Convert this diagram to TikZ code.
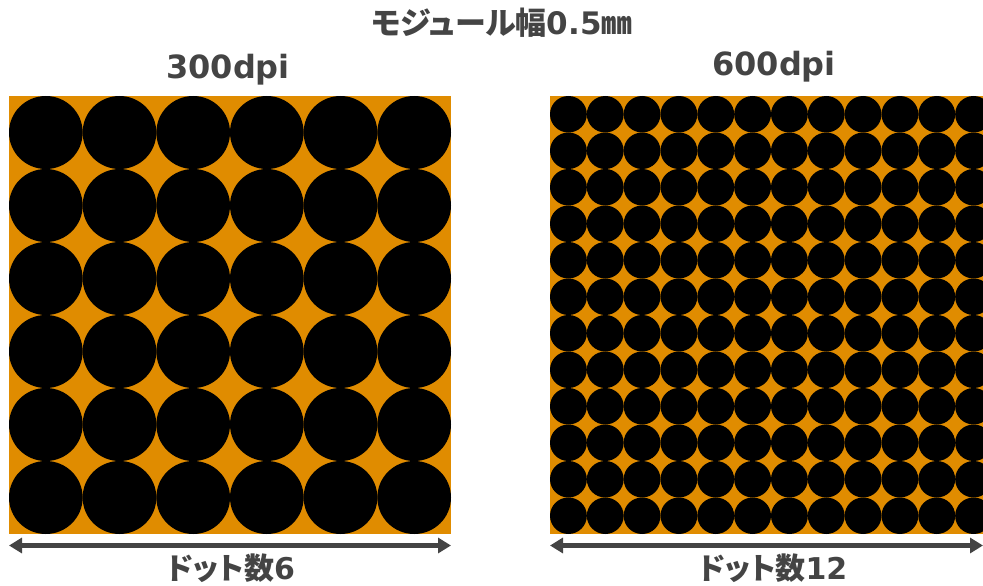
\documentclass[tikz,border=0pt]{standalone}
\usepackage{fontspec}
\setmainfont{DejaVu Sans}
\newfontfamily\jpfont[RawFeature=+palt]{Noto Sans CJK JP}
\usetikzlibrary{arrows.meta}
\definecolor{dotorange}{HTML}{E08C00}
\definecolor{txtgray}{HTML}{444444}
\begin{document}
\begin{tikzpicture}[x=1pt,y=-1pt,
  lbl/.style={text=txtgray,inner sep=0pt,anchor=base},
  dpifont/.style={font=\bfseries\fontsize{32}{32}\selectfont},
  cntfont/.style={font=\bfseries\fontsize{30}{30}\selectfont},
  titlefont/.style={font=\bfseries\fontsize{31}{31}\selectfont},
  dim/.style={draw=txtgray,line width=5pt,{Triangle[length=13pt,width=15pt]}-{Triangle[length=13pt,width=15pt]}}]
\useasboundingbox (0,0) rectangle (983,586);
\begin{scope}
  \clip (0,0) rectangle (983,586);
  % 300 dpi
  \fill[dotorange] (9,96) rectangle (451,534);
  \foreach \i in {0,...,5}
    \foreach \j in {0,...,5}
      \fill[black] ({9+73.667*\i+36.833},{96+73*\j+36.5}) ellipse [x radius=36.833, y radius=36.5];
  % 600 dpi
  \fill[dotorange] (550,96) rectangle (992,534);
  \foreach \i in {0,...,11}
    \foreach \j in {0,...,11}
      \fill[black] ({550+36.833*\i+18.417},{96+36.5*\j+18.25}) ellipse [x radius=18.417, y radius=18.25];
\end{scope}
\node[lbl,titlefont] (title) at (502,35) {{\jpfont モジュール幅}0.5{\jpfont ㎜}};
\node[lbl,dpifont] (d300) at (228,79) {300dpi};
\node[lbl,dpifont] (d600) at (774,75) {600dpi};
\coordinate (l1) at (9,545.5);
\coordinate (l2) at (451,545.5);
\coordinate (r1) at (550,545.5);
\coordinate (r2) at (983,545.5);
\draw[dim] (l1) -- (l2);
\draw[dim] (r1) -- (r2);
\node[lbl,cntfont] (c6) at (231,579) {{\jpfont ドット数}6};
\node[lbl,cntfont] (c12) at (773,579) {{\jpfont ドット数}12};
\end{tikzpicture}
\end{document}
